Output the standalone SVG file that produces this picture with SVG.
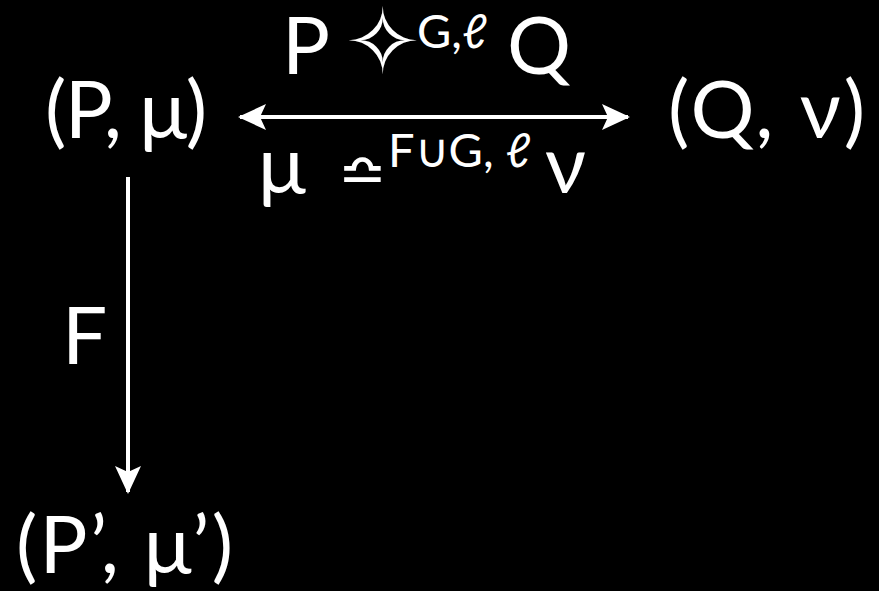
<svg xmlns="http://www.w3.org/2000/svg" width="879" height="591" viewBox="0 0 879 591">
<style>
.t{font-family:Lato,"Liberation Sans",sans-serif;fill:#fff;font-size:80px}
.s{font-family:Lato,"Liberation Sans",sans-serif;fill:#fff;font-size:47px}
.sym{font-family:"DejaVu Sans",sans-serif;fill:#fff}
.c{stroke:#fff;stroke-width:4;fill:none}
</style>
<defs>
<marker id="ah" viewBox="0 0 28 26" refX="26" refY="13" markerWidth="28" markerHeight="26" markerUnits="userSpaceOnUse" orient="auto-start-reverse">
<path d="M0,0 L28,13 L0,26 L6,13 Z" fill="#fff"/>
</marker>
</defs>
<rect width="879" height="591" fill="#000"/>
<g id="node-pmu"><text class="t" x="45" y="138" textLength="162" lengthAdjust="spacing">(P, μ)</text></g>
<g id="node-qnu"><text class="t" x="668" y="138" textLength="197" lengthAdjust="spacing">(Q, ν)</text></g>
<g id="node-pmu2"><text class="t" x="16" y="573" textLength="217" lengthAdjust="spacing">(P’, μ’)</text></g>
<g id="connectors">
<line class="c" x1="240" y1="117" x2="628" y2="117" marker-start="url(#ah)" marker-end="url(#ah)"/>
<line class="c" x1="128" y1="177" x2="128" y2="492" marker-end="url(#ah)"/>
</g>
<g id="label-top">
<text class="t" x="282" y="74">P</text>
<text class="sym" x="345" y="73" font-size="90">✧</text>
<text class="s" x="417" y="48">G,ℓ</text>
<text class="t" x="507" y="74">Q</text>
</g>
<g id="label-bottom">
<text class="t" x="258" y="193" font-size="84">μ</text>
<text class="sym" x="338" y="192" font-size="58">≏</text>
<text class="s" x="388" y="167">F∪G, ℓ</text>
<text class="t" x="545" y="193" font-size="84">ν</text>
</g>
<g id="label-f"><text class="t" x="62" y="364">F</text></g>
</svg>
